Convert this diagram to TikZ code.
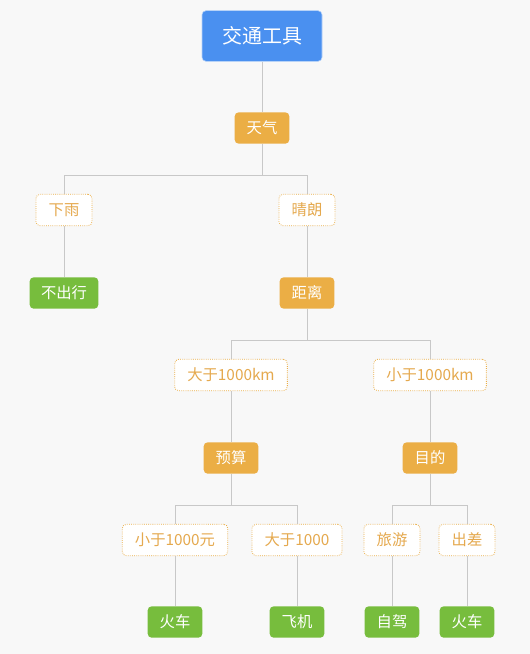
\documentclass[tikz,border=0pt]{standalone}
\usepackage{fontspec}
\setmainfont{Noto Sans CJK SC}
\usepackage{tikz}
\usetikzlibrary{backgrounds}
\definecolor{rootblue}{HTML}{4A90F0}
\definecolor{condorange}{HTML}{EBAE45}
\definecolor{leafgreen}{HTML}{77BD3D}
\definecolor{edgegray}{HTML}{C8C8C8}
\definecolor{bggray}{HTML}{F8F8F8}
\definecolor{optext}{HTML}{E5A94E}

\begin{document}
\begin{tikzpicture}[
  x=0.75pt, y=-0.75pt,
  root/.style={fill=rootblue, draw=rootblue!40, rounded corners=3pt, text=white,
    minimum width=90pt, minimum height=38pt, font=\fontsize{15}{18}\selectfont, inner sep=2pt},
  attr/.style={fill=condorange, rounded corners=3pt, text=white,
    minimum width=41pt, minimum height=23.5pt, font=\fontsize{11.5}{13}\selectfont, inner xsep=8.5pt},
  choice/.style={fill=white, draw=condorange, densely dotted, line width=0.6pt, rounded corners=3pt, text=optext,
    minimum width=41pt, minimum height=23.5pt, font=\fontsize{11.5}{13}\selectfont, inner xsep=9.5pt},
  leaf/.style={fill=leafgreen, rounded corners=3pt, text=white,
    minimum width=41pt, minimum height=23.5pt, font=\fontsize{11.5}{13}\selectfont, inner xsep=8.5pt},
  link/.style={draw=edgegray, semithick}
]

  % background, same size as the reference
  \begin{scope}[on background layer]
    \fill[bggray] (0,0) rectangle (530,654);
  \end{scope}
  \useasboundingbox (0,0) rectangle (530,654);

  % bus rows for the elbows (pixel y)
  \coordinate (bus1) at (0,175);
  \coordinate (bus2) at (0,340);
  \coordinate (bus3) at (0,505);

  % Nodes — fixed positions, pixel grid
  \node[root]   (jt)  at (262, 36) {交通工具};
  \node[attr]   (tq)  at (262,128) {天气};
  \node[choice] (xy)  at ( 64,210) {下雨};
  \node[choice] (ql)  at (307,210) {晴朗};
  \node[leaf]   (bcx) at ( 64,293) {不出行};
  \node[attr]   (jl)  at (307,293) {距离};
  \node[choice] (dy)  at (231,375) {大于1000km};
  \node[choice] (xyk) at (430,375) {小于1000km};
  \node[attr]   (ys)  at (231,458) {预算};
  \node[attr]   (md)  at (430,458) {目的};
  \node[choice] (xyy) at (175,540) {小于1000元};
  \node[choice] (dyy) at (297,540) {大于1000};
  \node[choice] (ly)  at (392,540) {旅游};
  \node[choice] (cc)  at (467,540) {出差};
  \node[leaf]   (hc1) at (175,622) {火车};
  \node[leaf]   (fj)  at (297,622) {飞机};
  \node[leaf]   (zj)  at (392,622) {自驾};
  \node[leaf]   (hc2) at (467,622) {火车};

  % Connectors
  \begin{scope}[on background layer]
    \draw[link] (jt) -- (tq);
    \foreach \c in {xy,ql} {
      \draw[link] (tq) -- (tq |- bus1) -| (\c);
    }
    \draw[link] (xy) -- (bcx);
    \draw[link] (ql) -- (jl);
    \foreach \c in {dy,xyk} {
      \draw[link] (jl) -- (jl |- bus2) -| (\c);
    }
    \draw[link] (dy) -- (ys);
    \draw[link] (xyk) -- (md);
    \foreach \c in {xyy,dyy} {
      \draw[link] (ys) -- (ys |- bus3) -| (\c);
    }
    \foreach \c in {ly,cc} {
      \draw[link] (md) -- (md |- bus3) -| (\c);
    }
    \draw[link] (xyy) -- (hc1);
    \draw[link] (dyy) -- (fj);
    \draw[link] (ly) -- (zj);
    \draw[link] (cc) -- (hc2);
  \end{scope}

\end{tikzpicture}
\end{document}
